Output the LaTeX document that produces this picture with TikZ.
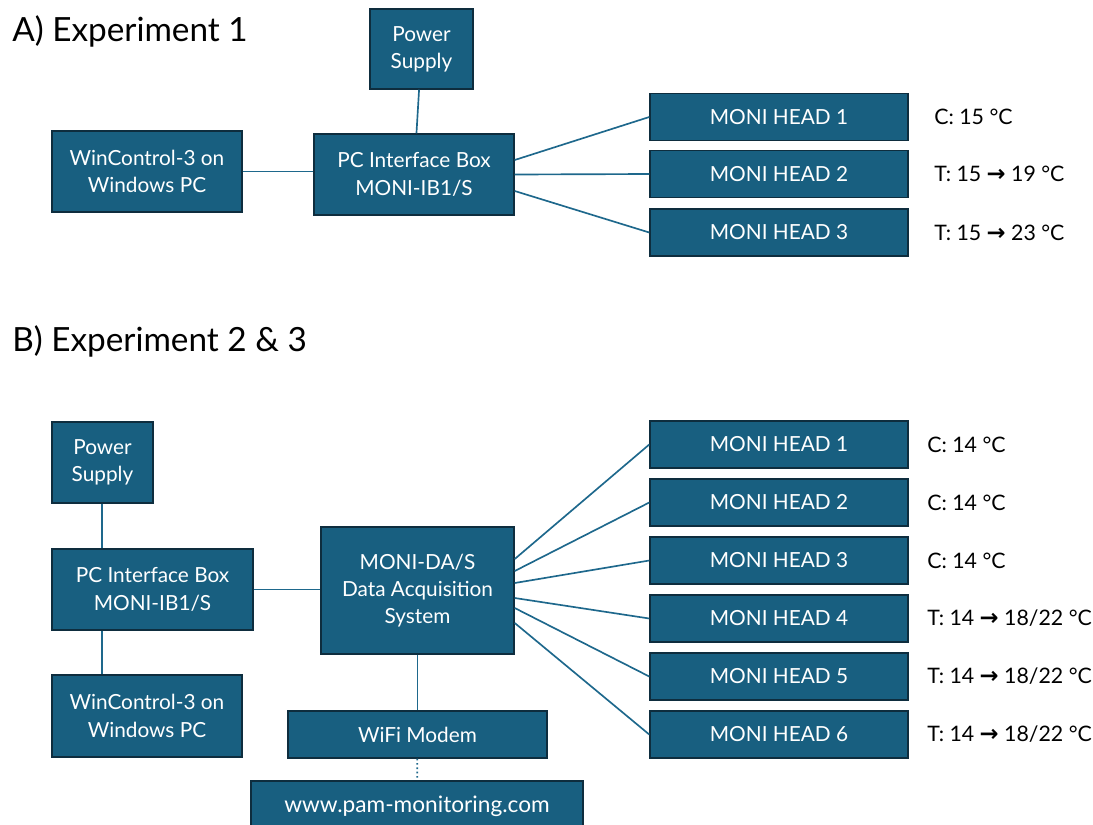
\documentclass[tikz,border=0pt]{standalone}
\usepackage{fontspec}
\setmainfont{Lato}
\newfontfamily\symf{DejaVu Sans}
\usetikzlibrary{calc}
\definecolor{boxfill}{RGB}{24,95,128}
\definecolor{boxdraw}{RGB}{14,45,62}
\definecolor{wire}{RGB}{30,104,140}
\newcommand{\arr}{{\symf\bfseries\fontsize{17}{18}\selectfont →}}
\tikzset{
  blk/.style={draw=boxdraw, fill=boxfill, line width=1.1pt, text=white, inner sep=0pt,
    align=center, font=\fontsize{15.6}{20.5}\selectfont},
  wirel/.style={draw=wire, line width=1.25pt},
  lbl/.style={anchor=west, inner sep=0pt, font=\fontsize{16}{18}\selectfont},
  ttl/.style={anchor=west, inner sep=0pt, font=\fontsize{25}{30}\selectfont}
}
\begin{document}
\begin{tikzpicture}[x=0.75pt, y=-0.75pt]
\useasboundingbox (0,0) rectangle (1093,825);
\clip (0,0) rectangle (1093,825);
% ---- A ----
\node[ttl] (tA) at (12,31) {A) Experiment 1};
\node[blk, minimum width=77.25pt, minimum height=60pt] (psA) at (421.5,49) {Power\\Supply};
\node[blk, minimum width=142.5pt, minimum height=60.75pt] (wcA) at (147,171.5) {WinControl-3 on\\Windows PC};
\node[blk, minimum width=150pt, minimum height=60.75pt] (pcA) at (414,174.5) {PC Interface Box\\MONI-IB1/S};
\foreach \i/\yy/\t in {1/117/{C: 15 °C}, 2/174/{T: 15 \arr{} 19 °C}, 3/232.5/{T: 15 \arr{} 23 °C}}{
  \node[blk, minimum width=193.5pt, minimum height=35pt] (hA\i) at (779,\yy) {MONI HEAD \i};
  \node[lbl] (lA\i) at (934,\yy) {\t};
}
\draw[wirel] (psA) -- (pcA);
\draw[wirel] (wcA.east) -- (wcA.east -| pcA.west);
\draw[wirel] ($(pcA.east)+(0,-14.5)$) -- (hA1.west);
\draw[wirel] (pcA.east) -- (hA2.west);
\draw[wirel] ($(pcA.east)+(0,16.5)$) -- (hA3.west);
% ---- B ----
\node[ttl] (tB) at (12,341) {B) Experiment 2 \& 3};
\node[blk, minimum width=75.75pt, minimum height=60.75pt] (psB) at (102.5,462.5) {Power\\Supply};
\node[blk, minimum width=150.75pt, minimum height=60.75pt] (pcB) at (152.5,589.5) {PC Interface Box\\MONI-IB1/S};
\node[blk, minimum width=142.5pt, minimum height=61.5pt] (wcB) at (147,716) {WinControl-3 on\\Windows PC};
\node[blk, minimum width=144.75pt, minimum height=95.25pt] (das) at (417.5,590.5) {MONI-DA/S\\Data Acquisition\\System};
\node[blk, minimum width=194.25pt, minimum height=35.25pt] (wifi) at (417.5,734.5) {WiFi Modem};
\node[blk, minimum width=249pt, minimum height=37.5pt, font=\fontsize{17}{20}\selectfont] (www) at (417,806) {\raisebox{1.5pt}{www.pam-monitoring.com}};
\foreach \i/\t in {1/{C: 14 °C}, 2/{C: 14 °C}, 3/{C: 14 °C}, 4/{T: 14 \arr{} 18/22 °C}, 5/{T: 14 \arr{} 18/22 °C}, 6/{T: 14 \arr{} 18/22 °C}}{
  \pgfmathsetmacro{\yy}{444.5+58*(\i-1)}
  \node[blk, minimum width=193.5pt, minimum height=35.25pt] (hB\i) at (779,\yy) {MONI HEAD \i};
  \node[lbl] (lB\i) at (927,\yy) {\t};
}
\draw[wirel] (psB.south -| 102,0) -- (pcB.north -| 102,0);
\draw[wirel] (pcB.south -| 102,0) -- (wcB.north -| 102,0);
\draw[wirel] (pcB.east) -- (pcB.east -| das.west);
\draw[wirel] (das) -- (wifi);
\draw[wire, line width=1.25pt, dotted] (wifi) -- (www);
\foreach \i/\o in {1/-31.5, 2/-19.5, 3/-7.5, 4/7.5, 5/17.5, 6/32.5}{
  \draw[wirel] ($(das.east)+(0,\o)$) -- (hB\i.west);
}
\end{tikzpicture}
\end{document}
